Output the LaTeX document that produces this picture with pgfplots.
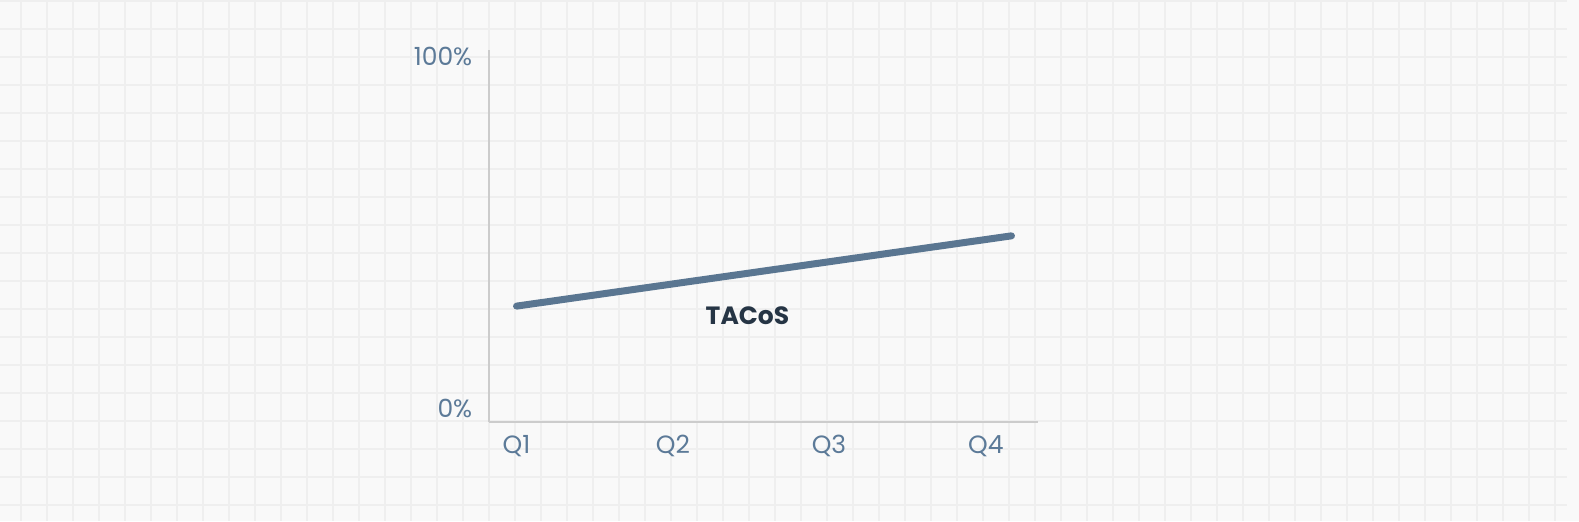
\documentclass[border=0pt]{standalone}
\usepackage{fontspec}
\setmainfont{Poppins}
\usepackage{pgfplots}
\pgfplotsset{compat=1.18}

\definecolor{paper}{HTML}{F9F9F9}
\definecolor{paperline}{HTML}{EFEFEF}
\definecolor{axisgray}{HTML}{CCCCCC}
\definecolor{ticktext}{HTML}{5C7A98}
\definecolor{seriesblue}{HTML}{5A7691}
\definecolor{labeldark}{HTML}{263545}

\begin{document}
\begin{tikzpicture}[x=0.5pt,y=-0.5pt]
    % squared paper behind the chart (1 unit = 1 px of the reference)
    \fill[paper] (0,0) rectangle (1579,521);
    \foreach \gx in {21,47,...,1555}
        \draw[paperline, line width=1pt] (\gx,0) -- (\gx,521);
    \foreach \gy in {1,29,...,505}
        \draw[paperline, line width=1pt] (0,\gy) -- (1567,\gy);

    \begin{axis}[
        at={(244.5pt,-210.85pt)},
        anchor=south west,
        scale only axis,
        width=274.5pt,
        height=185.85pt,
        xmin=-0.167, xmax=3.161,
        ymin=0, ymax=100,
        axis lines=left,
        axis line style={draw=axisgray, line width=1pt, -},
        xtick={0,0.948,1.894,2.845},
        xticklabels={Q1,Q2,Q3,Q4},
        ytick={3.5,98.2},
        yticklabels={0\%,100\%},
        major tick length=0pt,
        tick label style={font=\fontsize{12.5}{14}\selectfont, text=ticktext},
        xticklabel style={anchor=north, inner sep=0pt, yshift=-6.5pt},
        yticklabel style={anchor=east, inner sep=0pt, xshift=-8.2pt},
        clip=false,
    ]

    \addplot[
        color=seriesblue,
        line width=3.5pt,
        line cap=round,
        line join=round,
        mark=none,
    ] coordinates {
        (0,31.1) (1,37.4) (2,43.7) (3,50.0)
    };

    \node[font=\fontsize{12.5}{14}\selectfont\bfseries, text=labeldark, inner sep=0pt]
        at (axis cs:1.40,28.4) {TACoS};
    \end{axis}

    \pgfresetboundingbox
    \useasboundingbox (0,0) rectangle (1579,521);
\end{tikzpicture}
\end{document}
